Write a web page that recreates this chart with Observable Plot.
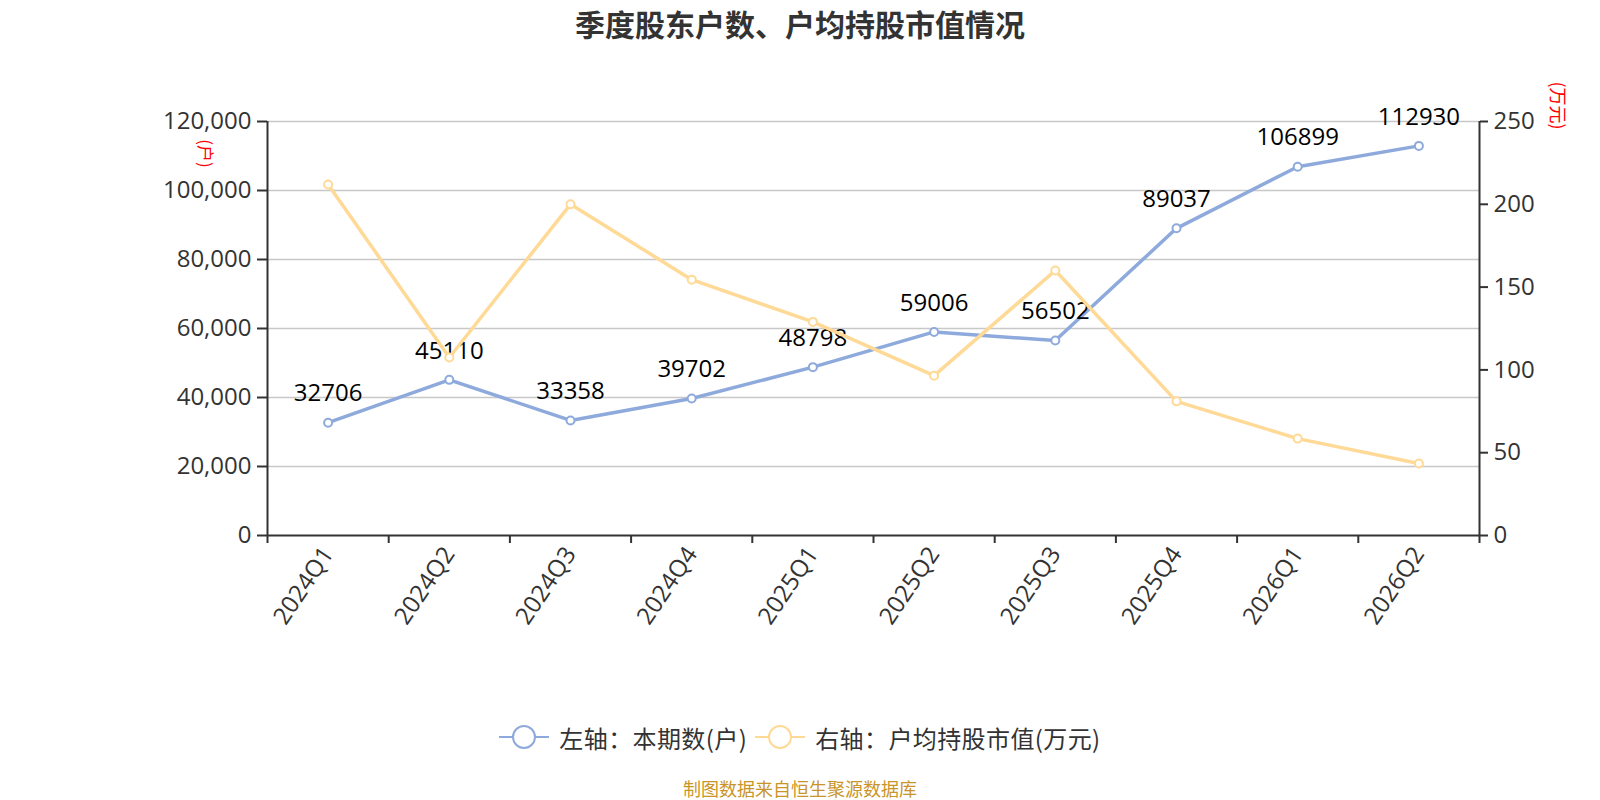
<!DOCTYPE html>
<html>
<head>
<meta charset="utf-8">
<script src="https://cdn.jsdelivr.net/npm/d3@7"></script>
<script src="https://cdn.jsdelivr.net/npm/@observablehq/plot@0.6"></script>
<style>
  body { margin: 0; background: #fff; font-family: "Open Sans", "Noto Sans CJK SC", sans-serif; }
  #wrap { position: relative; width: 1600px; height: 800px; overflow: hidden; background: #fff; }
  #chart { position: absolute; left: 0; top: 0; }
  #title { position: absolute; left: 0; top: 4px; width: 1600px; text-align: center; font-size: 30px; line-height: 38px; font-weight: bold; color: #333; font-family: "Noto Sans CJK SC", sans-serif; }
  #legend { position: absolute; left: 0; top: 722px; width: 1600px; height: 30px; display: flex; justify-content: center; align-items: center; font-size: 24px; color: #333; font-family: "Noto Sans CJK SC", sans-serif; }
  .item { display: flex; align-items: center; margin: 0 4px; }
  .item svg { margin-right: 10px; }
  .item span { letter-spacing: 0.4px; }
  #caption { position: absolute; left: 0; top: 777px; width: 1600px; text-align: center; font-size: 18px; line-height: 22px; color: #c9952a; font-family: "Noto Sans CJK SC", sans-serif; }
</style>
</head>
<body>
<div id="wrap">
  <div id="chart"></div>
  <div id="title">季度股东户数、户均持股市值情况</div>
  <div id="legend"></div>
  <div id="caption">制图数据来自恒生聚源数据库</div>
</div>
<script>
const categories = ["2024Q1","2024Q2","2024Q3","2024Q4","2025Q1","2025Q2","2025Q3","2025Q4","2026Q1","2026Q2"];
const holders = [32706, 45110, 33358, 39702, 48798, 59006, 56502, 89037, 106899, 112930];
const avgValue = [212, 107.5, 200, 154.5, 129, 96.5, 160, 81, 58.5, 43.5];
const leftTicks = [0, 20000, 40000, 60000, 80000, 100000, 120000];
const rightTicks = [0, 50, 100, 150, 200, 250];
const seriesNames = ["左轴：本期数(户)", "右轴：户均持股市值(万元)"];
const unitLeft = "(户)";
const unitRight = "(万元)";

const blue = "#8eaadc";
const orange = "#ffd996";
const k = 120000 / 250;

const data = categories.map((c, i) => ({c, i, h: holders[i], v: avgValue[i]}));
const X = d => d.i + 0.5;

const chart = Plot.plot({
  width: 1600,
  height: 800,
  marginLeft: 267,
  marginRight: 121,
  marginTop: 121,
  marginBottom: 265,
  x: {domain: [0, 10]},
  y: {domain: [0, 120000]},
  style: {fontFamily: '"Open Sans","Noto Sans CJK SC",sans-serif', fontSize: "24px", color: "#333", background: "transparent"},
  marks: [
    Plot.ruleY(leftTicks.slice(1), {stroke: "#c8c8c8", strokeWidth: 1.6}),
    Plot.axisY({ticks: leftTicks, tickFormat: d3.format(","), tickSize: 10, tickPadding: 6, fontSize: 24, label: null, stroke: "#333", strokeWidth: 2, fill: "#333"}),
    Plot.axisY({anchor: "right", ticks: rightTicks.map(v => v * k), tickFormat: d => String(Math.round(d / k)), tickSize: 8, tickPadding: 6, fontSize: 24, label: null, stroke: "#333", strokeWidth: 2, fill: "#333"}),
    Plot.axisX({ticks: d3.range(11), tickFormat: () => "", tickSize: 8, label: null, stroke: "#333", strokeWidth: 2}),
    Plot.axisX({ticks: data.map(X), tickFormat: d => categories[Math.floor(d)], tickSize: 0, tickPadding: 14, tickRotate: -56, fontSize: 24, label: null, fill: "#333"}),
    Plot.ruleX([0, 10], {stroke: "#333", strokeWidth: 2}),
    Plot.ruleY([0], {stroke: "#333", strokeWidth: 2}),
    Plot.text([unitLeft], {frameAnchor: "top-left", dx: 204 - 267, dy: 153 - 121, rotate: 90, textAnchor: "middle", lineAnchor: "middle", fill: "red", fontSize: 17, fontFamily: '"Noto Sans CJK SC",sans-serif'}),
    Plot.text([unitRight], {frameAnchor: "top-right", dx: 1556 - 1479, dy: 105 - 121, rotate: 90, textAnchor: "middle", lineAnchor: "middle", fill: "red", fontSize: 18, fontFamily: '"Noto Sans CJK SC",sans-serif'}),
    Plot.line(data, {x: X, y: "h", stroke: blue, strokeWidth: 3.5}),
    Plot.dot(data, {x: X, y: "h", r: 4, fill: "#fff", stroke: blue, strokeWidth: 2}),
    Plot.text(data, {x: X, y: "h", text: d => String(d.h), dy: -29, fontSize: 24, fill: "#000"}),
    Plot.line(data, {x: X, y: d => d.v * k, stroke: orange, strokeWidth: 3.5}),
    Plot.dot(data, {x: X, y: d => d.v * k, r: 4, fill: "#fff", stroke: orange, strokeWidth: 2})
  ]
});
document.getElementById("chart").appendChild(chart);

const legend = document.getElementById("legend");
[[seriesNames[0], blue], [seriesNames[1], orange]].forEach(([name, col]) => {
  const item = document.createElement("div");
  item.className = "item";
  item.innerHTML = `<svg width="50" height="30"><line x1="0" y1="15" x2="50" y2="15" stroke="${col}" stroke-width="2"/><circle cx="25" cy="15" r="11" fill="#fff" stroke="${col}" stroke-width="2"/></svg><span>${name}</span>`;
  legend.appendChild(item);
});
</script>
</body>
</html>
